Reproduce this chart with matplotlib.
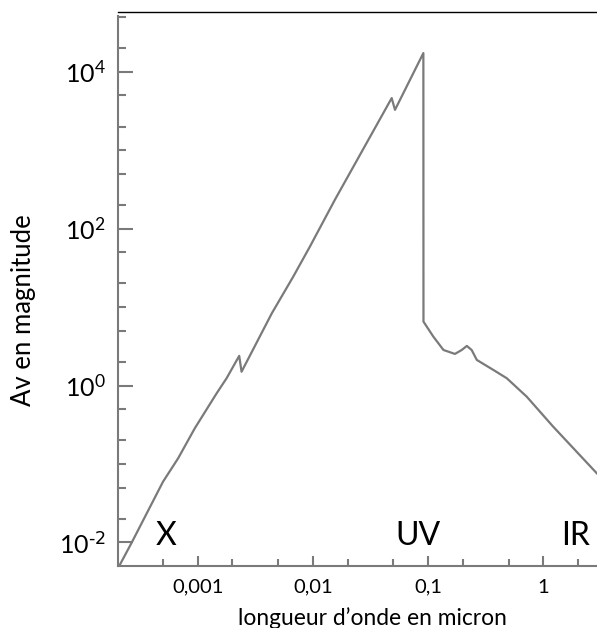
import matplotlib
matplotlib.use("Agg")
import matplotlib.pyplot as plt
from matplotlib.ticker import FixedLocator, FixedFormatter, NullFormatter

plt.rcParams['font.family'] = ['Lato', 'DejaVu Sans']

# extinction curve (wavelength in micron, Av in magnitude)
wavelength = [2.10e-4, 2.65e-4, 4.99e-4, 6.75e-4, 9.42e-4, 1.46e-3, 1.78e-3,
              2.29e-3, 2.40e-3, 4.40e-3, 6.75e-3, 9.42e-3, 0.0155,
              0.0483, 0.0516, 0.0910, 0.0912, 0.111, 0.136, 0.171, 0.196,
              0.217, 0.239, 0.265, 0.369, 0.482, 0.719, 1.22, 2.92]
av_mag = [5.15e-3, 9.75e-3, 0.0594, 0.118, 0.285, 0.798, 1.24,
          2.39, 1.50, 8.36, 24.5, 59.2, 233,
          4624, 3273, 17340, 6.53, 4.21, 2.84, 2.53, 2.84,
          3.20, 2.84, 2.12, 1.58, 1.24, 0.721, 0.299, 0.076]

x_major = [0.001, 0.01, 0.1, 1]
x_major_labels = ["0,001", "0,01", "0,1", "1"]
x_minor = [5e-4, 2e-3, 5e-3, 2e-2, 5e-2, 2e-1, 5e-1, 2]
y_major = [1e-2, 1, 1e2, 1e4]
y_major_labels = [r"$\mathregular{10^{\text{-2}}}$", r"$\mathregular{10^{0}}$",
                  r"$\mathregular{10^{2}}$", r"$\mathregular{10^{4}}$"]
y_minor = [2e-2, 5e-2, 1e-1, 2e-1, 5e-1, 2, 5, 10, 20, 50,
           200, 500, 1e3, 2e3, 5e3, 2e4, 5e4]

region_names = ["X", "UV", "IR"]
region_pos = [0.100, 0.627, 0.956]

grey = "#7a7a7a"

fig = plt.figure(figsize=(5.97, 6.28), dpi=100)
ax = fig.add_axes([0.1977, 0.0987, 0.8023, 0.8823])

ax.plot(wavelength, av_mag, color=grey, lw=1.6)
ax.set_xscale("log")
ax.set_yscale("log")
ax.set_xlim(2.03e-4, 2.93)
ax.set_ylim(5.0e-3, 5.8e4)

ax.xaxis.set_major_locator(FixedLocator(x_major))
ax.xaxis.set_major_formatter(FixedFormatter(x_major_labels))
ax.xaxis.set_minor_locator(FixedLocator(x_minor))
ax.xaxis.set_minor_formatter(NullFormatter())
ax.yaxis.set_major_locator(FixedLocator(y_major))
ax.yaxis.set_major_formatter(FixedFormatter(y_major_labels))
ax.yaxis.set_minor_locator(FixedLocator(y_minor))
ax.yaxis.set_minor_formatter(NullFormatter())

ax.tick_params(axis="both", which="both", direction="in", width=1.5, color=grey)
ax.tick_params(axis="x", which="major", length=7.5, labelsize=14.5, pad=9)
ax.tick_params(axis="x", which="minor", length=5)
ax.tick_params(axis="y", which="major", length=11, labelsize=18, pad=9)
ax.tick_params(axis="y", which="minor", length=6)
ax.tick_params(top=False, right=False)

ax.spines["right"].set_visible(False)
ax.spines["top"].set_color("black")
ax.spines["top"].set_linewidth(1.0)
ax.spines["left"].set_color(grey)
ax.spines["left"].set_linewidth(1.5)
ax.spines["left"].set_bounds(5.0e-3, 5.2e4)
ax.spines["bottom"].set_color(grey)
ax.spines["bottom"].set_linewidth(1.5)

ax.set_ylabel("Av en magnitude", fontsize=18.5)
ax.yaxis.set_label_coords(-0.172, 0.461)
ax.set_xlabel("longueur d\u2019onde en micron", fontsize=16.4)
ax.xaxis.set_label_coords(0.532, -0.074)

for name, xpos in zip(region_names, region_pos):
    ax.text(xpos, 0.038, name, transform=ax.transAxes, fontsize=23,
            ha="center", va="baseline")

fig.savefig("out.png", dpi=100)
